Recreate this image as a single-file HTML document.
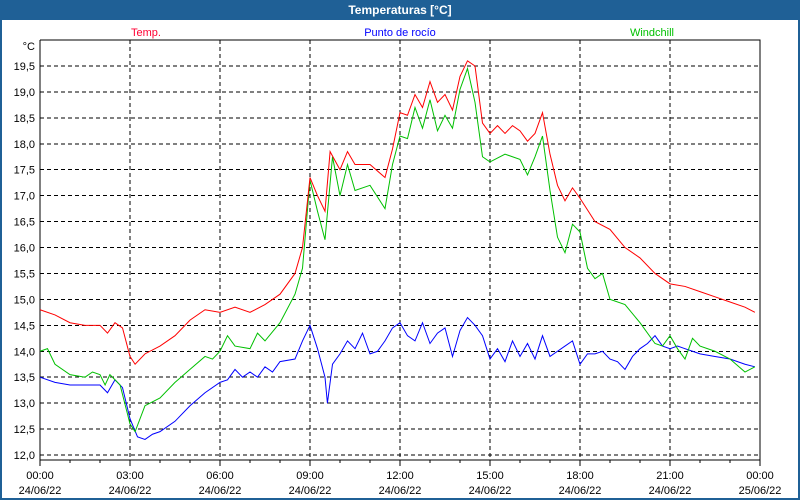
<!DOCTYPE html>
<html><head><meta charset="utf-8"><style>
body{margin:0;background:#fff;font-family:"Liberation Sans","DejaVu Sans",sans-serif}
#wrap{position:relative;width:800px;height:500px;box-sizing:border-box;border:2px solid #1f6096;border-top:none}
#title{position:absolute;left:0;top:0;width:800px;height:20px;background:#1f6096;color:#fff;font-weight:bold;font-size:12px;text-align:center;line-height:20px;margin-left:-2px}
svg{position:absolute;left:-2px;top:0}
</style></head><body>
<div id="wrap">
<div id="title">Temperaturas [°C]</div>
<svg id="c" width="800" height="500"></svg>
</div>
<script>
const yTicks=[12.0,12.5,13.0,13.5,14.0,14.5,15.0,15.5,16.0,16.5,17.0,17.5,18.0,18.5,19.0,19.5];
const xTickLabels=["00:00","03:00","06:00","09:00","12:00","15:00","18:00","21:00","00:00"];
const xDateLabels=["24/06/22","24/06/22","24/06/22","24/06/22","24/06/22","24/06/22","24/06/22","24/06/22","25/06/22"];
const tempT=[0,0.5,1,1.5,2,2.25,2.5,2.75,3,3.17,3.5,4,4.5,5,5.5,6,6.5,7,7.5,8,8.5,8.75,9,9.25,9.5,9.67,10,10.25,10.5,11,11.5,11.75,12,12.25,12.5,12.75,13,13.25,13.5,13.75,14,14.25,14.5,14.75,15,15.25,15.5,15.75,16,16.25,16.5,16.75,17,17.25,17.5,17.75,18,18.5,19,19.5,20,20.5,21,21.5,22,22.5,23,23.5,23.83];
const tempV=[14.8,14.7,14.55,14.5,14.5,14.35,14.55,14.45,13.9,13.75,13.95,14.1,14.3,14.6,14.8,14.75,14.85,14.75,14.9,15.1,15.5,16.0,17.35,17.0,16.7,17.85,17.5,17.85,17.6,17.6,17.35,17.9,18.6,18.55,18.95,18.7,19.2,18.8,18.95,18.65,19.3,19.6,19.5,18.4,18.2,18.35,18.2,18.35,18.25,18.05,18.2,18.6,17.8,17.2,16.9,17.15,16.95,16.5,16.35,16.0,15.8,15.5,15.3,15.25,15.15,15.05,14.95,14.85,14.75];
const windT=[0,0.25,0.5,1,1.5,1.75,2,2.17,2.33,2.67,3,3.17,3.5,4,4.5,5,5.5,5.75,6,6.25,6.5,7,7.25,7.5,8,8.5,8.75,9,9.25,9.5,9.75,10,10.25,10.5,11,11.5,11.75,12,12.25,12.5,12.75,13,13.25,13.5,13.75,14,14.25,14.5,14.75,15,15.5,16,16.25,16.5,16.75,17,17.25,17.5,17.75,18,18.25,18.5,18.75,19,19.5,20,20.5,20.75,21,21.25,21.5,21.75,22,22.5,23,23.5,23.83];
const windV=[14.0,14.05,13.75,13.55,13.5,13.6,13.55,13.35,13.55,13.35,12.6,12.45,12.95,13.1,13.4,13.65,13.9,13.85,14.0,14.3,14.1,14.05,14.35,14.2,14.55,15.1,15.6,17.3,16.7,16.15,17.75,17.0,17.6,17.1,17.2,16.75,17.6,18.15,18.1,18.7,18.3,18.85,18.25,18.55,18.3,19.05,19.45,18.8,17.75,17.65,17.8,17.7,17.4,17.75,18.15,17.1,16.2,15.9,16.45,16.3,15.6,15.4,15.5,15.0,14.9,14.55,14.15,14.1,14.3,14.05,13.85,14.25,14.1,14.0,13.85,13.6,13.7];
const dewT=[0,0.5,1,1.5,2,2.25,2.5,2.75,3,3.25,3.5,3.75,4,4.5,5,5.5,6,6.25,6.5,6.75,7,7.25,7.5,7.75,8,8.5,8.75,9,9.25,9.5,9.58,9.75,10,10.25,10.5,10.75,11,11.25,11.5,11.75,12,12.25,12.5,12.75,13,13.25,13.5,13.75,14,14.25,14.5,14.75,15,15.25,15.5,15.75,16,16.25,16.5,16.75,17,17.25,17.5,17.75,18,18.25,18.5,18.75,19,19.25,19.5,19.75,20,20.25,20.5,20.75,21,21.25,21.5,21.75,22,22.5,23,23.5,23.83];
const dewV=[13.5,13.4,13.35,13.35,13.35,13.2,13.45,13.3,12.7,12.35,12.3,12.4,12.45,12.65,12.95,13.2,13.4,13.45,13.65,13.5,13.6,13.5,13.7,13.6,13.8,13.85,14.2,14.5,14.05,13.5,13.0,13.75,13.95,14.2,14.05,14.35,13.95,14.0,14.2,14.45,14.55,14.3,14.2,14.55,14.15,14.35,14.45,13.9,14.4,14.65,14.5,14.3,13.85,14.05,13.8,14.2,13.9,14.15,13.85,14.3,13.9,14.0,14.1,14.2,13.75,13.95,13.95,14.0,13.85,13.8,13.65,13.9,14.05,14.15,14.3,14.1,14.05,14.1,14.05,14.0,13.95,13.9,13.85,13.75,13.7];

const L=40,R=760,T=40,B=460;
const xS=h=>L+h*(R-L)/24;
const yS=v=>455-(v-12)*(455-66)/7.5;
const NS="http://www.w3.org/2000/svg";
const svg=document.getElementById('c');
function mk(tag,attrs,txt){const e=document.createElementNS(NS,tag);for(const k in attrs)e.setAttribute(k,attrs[k]);if(txt!==undefined)e.textContent=txt;svg.appendChild(e);return e;}
// gridlines
yTicks.forEach((v,i)=>{
  const g=mk('line',{x1:L,x2:R,y1:yS(v),y2:yS(v),stroke:'#000','stroke-dasharray':'4,3','stroke-width':1,'shape-rendering':'crispEdges'});
  
  
  const t=mk('text',{x:35,y:yS(v)+4,'text-anchor':'end','font-size':11,fill:'#000'},v.toFixed(1).replace('.',','));
  
  
});
for(let h=3;h<24;h+=3){
  const g=mk('line',{x1:xS(h),x2:xS(h),y1:T,y2:B,stroke:'#000','stroke-dasharray':'4,3','shape-rendering':'crispEdges'});
  
  
}
for(let h=0;h<=24;h++){
  const tk=mk('line',{x1:xS(h),x2:xS(h),y1:B,y2:B+(h%3==0?6:3),stroke:'#000','shape-rendering':'crispEdges'});
  
  
}
xTickLabels.forEach((s,i)=>{
  const a=mk('text',{x:xS(i*3),y:479,'text-anchor':'middle','font-size':11,fill:'#000'},s);
  
  
  const b=mk('text',{x:xS(i*3),y:494,'text-anchor':'middle','font-size':11,fill:'#000'},xDateLabels[i]);
  
  
});
const ax=mk('path',{d:`M${L},${T}V${B}H${R}V${T}H${L}`,fill:'none',stroke:'#000','shape-rendering':'crispEdges'});


const u=mk('text',{x:35,y:50,'text-anchor':'end','font-size':11,fill:'#000'},'°C');


function series(ts,vs,col,name){
  const p=mk('polyline',{points:ts.map((t,i)=>xS(t)+','+yS(vs[i])).join(' '),fill:'none',stroke:col,'stroke-width':1});
  
  
}
series(dewT,dewV,'#0000ff','dewpoint-line');
series(windT,windV,'#00c000','windchill-line');
series(tempT,tempV,'#ff0000','temp-line');
const l1=mk('text',{x:146,y:36,'text-anchor':'middle','font-size':11,fill:'#ff0033'},'Temp.');


const l2=mk('text',{x:400,y:36,'text-anchor':'middle','font-size':11,fill:'#0000ff'},'Punto de rocío');


const l3=mk('text',{x:652,y:36,'text-anchor':'middle','font-size':11,fill:'#00c000'},'Windchill');


</script>
</body></html>
